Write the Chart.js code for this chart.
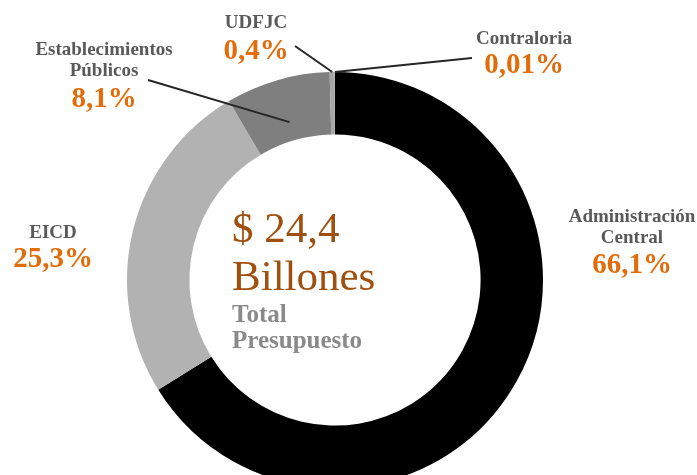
<!DOCTYPE html>
<html>
<head>
<meta charset="utf-8">
<script src="https://cdn.jsdelivr.net/npm/chart.js@4.4.0/dist/chart.umd.min.js"></script>
<style>
  html, body { margin: 0; padding: 0; background: #fff; overflow: hidden; }
  #wrap { width: 697px; height: 560px; position: relative; }
</style>
</head>
<body>
<div id="wrap"><canvas id="donut"></canvas></div>
<script>
// datos del presupuesto
var categories = ['Administración Central', 'EICD', 'Establecimientos Públicos', 'UDFJC', 'Contraloria'];
var shares = [66.1, 25.3, 8.1, 0.4, 0.01];
var shareLabels = ['66,1%', '25,3%', '8,1%', '0,4%', '0,01%'];
var nameLines = [['Administración', 'Central'], ['EICD'], ['Establecimientos', 'Públicos'], ['UDFJC'], ['Contraloria']];
var totalLines = ['$ 24,4', 'Billones'];
var subLines = ['Total', 'Presupuesto'];

var colors = ['#000000', '#b2b2b2', '#7f7f7f', '#a6a6a6', '#d9d9d9'];
var orange = '#e36c0a';
var grayText = '#595959';

// label placement: x, baselines of name lines, baseline of percent, leader start (or null), leader radius
var labelPos = [
    { x: 632, names: [222, 243], pct: 273, lead: null },
    { x: 53, names: [238], pct: 267, lead: null },
    { x: 104, names: [55, 76], pct: 107, lead: [148, 80], r: 0.3 },
    { x: 256, names: [28], pct: 59, lead: [295, 46], r: 1 },
    { x: 524, names: [44], pct: 73, lead: [472, 58], r: 1 }
];

var labelsPlugin = {
    id: 'labelsPlugin',
    afterDraw: function(chart) {
        var c = chart.ctx;
        var arcs = chart.getDatasetMeta(0).data;
        c.save();
        c.textAlign = 'center';
        c.textBaseline = 'alphabetic';
        labelPos.forEach(function(p, i) {
            c.fillStyle = grayText;
            c.font = 'bold 19px "Liberation Serif"';
            nameLines[i].forEach(function(t, j) { c.fillText(t, p.x, p.names[j]); });
            c.fillStyle = orange;
            c.font = 'bold 29px "Liberation Serif"';
            c.fillText(shareLabels[i], p.x, p.pct);
            if (p.lead) {
                var a = arcs[i].getProps(['x', 'y', 'startAngle', 'endAngle', 'innerRadius', 'outerRadius'], true);
                var mid = (a.startAngle + a.endAngle) / 2;
                var rr = a.innerRadius + p.r * (a.outerRadius - a.innerRadius);
                c.strokeStyle = '#262626';
                c.lineWidth = 2;
                c.beginPath();
                c.moveTo(p.lead[0], p.lead[1]);
                c.lineTo(a.x + rr * Math.cos(mid), a.y + rr * Math.sin(mid));
                c.stroke();
            }
        });
        // texto central
        c.textAlign = 'left';
        c.fillStyle = '#a0500e';
        c.font = '43px "Liberation Serif"';
        c.fillText(totalLines[0], 232, 242);
        c.fillText(totalLines[1], 232, 290);
        c.fillStyle = '#8a8a8a';
        c.font = 'bold 25px "Liberation Serif"';
        c.fillText(subLines[0], 232, 322);
        c.fillText(subLines[1], 232, 348);
        c.restore();
    }
};

var ctx = document.getElementById('donut');
var chart = new Chart(ctx, {
    type: 'doughnut',
    data: {
        labels: categories,
        datasets: [{
            data: shares,
            backgroundColor: colors,
            borderWidth: 0
        }]
    },
    options: {
        responsive: true,
        maintainAspectRatio: false,
        animation: false,
        cutout: '70%',
        layout: { padding: { left: 127, right: 154, top: 72, bottom: 72 } },
        plugins: {
            legend: { display: false },
            tooltip: { enabled: false }
        }
    },
    plugins: [labelsPlugin]
});
</script>
</body>
</html>
